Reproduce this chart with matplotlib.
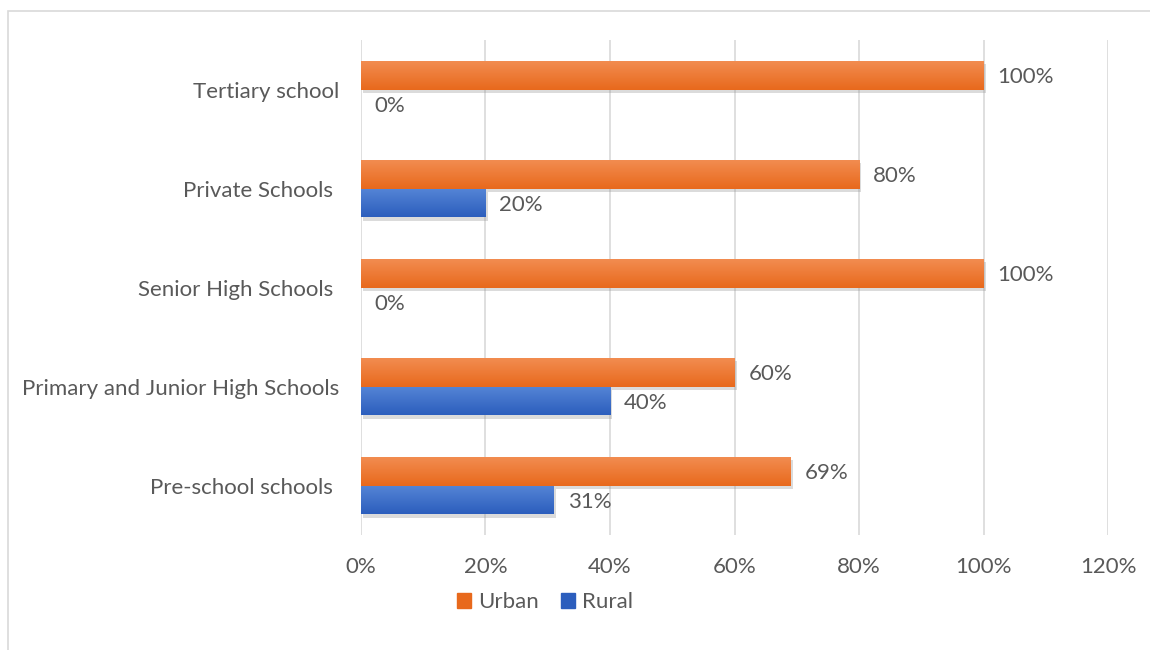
import numpy as np
import matplotlib.pyplot as plt
from matplotlib.patches import Rectangle, Patch
from matplotlib.colors import LinearSegmentedColormap
import matplotlib.patheffects as pe

plt.rcParams['font.family'] = ['Lato', 'DejaVu Sans']

categories = ['Pre-school schools ', 'Primary and Junior High Schools', 'Senior High Schools ',
              'Private Schools ', 'Tertiary school']
urban = [0.69, 0.60, 1.00, 0.80, 1.00]
rural = [0.31, 0.40, 0.00, 0.20, 0.00]
xticks = [0, 0.2, 0.4, 0.6, 0.8, 1.0, 1.2]

text_col = '#595959'
grid_col = '#D9D9D9'
urban_col = ('#F28C50', '#E8691C')
rural_col = ('#5585D6', '#2C5EBD')
fs = 16

fig = plt.figure(figsize=(11.5, 6.5), dpi=100)
ax = fig.add_axes([0.3139, 0.1769, 0.6496, 0.7615])

# chart frame
fig.patches.append(Rectangle((8 / 1150, -0.01), 1.0, 1 - 11 / 650 + 0.01,
                             transform=fig.transFigure, fill=False,
                             edgecolor=grid_col, linewidth=1.2))

y = np.arange(len(categories))
h = 0.29


def shade(bars, cols):
    # vertical gradient clipped to each bar, plus a soft drop shadow
    cmap = LinearSegmentedColormap.from_list('g', [cols[1], cols[0]])
    grad = np.linspace(0, 1, 64).reshape(-1, 1)
    for b in bars:
        if b.get_width() <= 0:
            continue
        x0, y0 = b.get_x(), b.get_y()
        w, hh = b.get_width(), b.get_height()
        b.set_path_effects([pe.SimplePatchShadow(offset=(1.5, -2.5), shadow_rgbFace='#8a8a8a',
                                                 alpha=0.3), pe.Normal()])
        im = ax.imshow(grad, cmap=cmap, aspect='auto', origin='lower',
                       extent=(x0, x0 + w, y0, y0 + hh), zorder=3)
        im.set_clip_path(b)


bu = ax.barh(y + h / 2, urban, height=h, color=urban_col[1], zorder=2)
br = ax.barh(y - h / 2, rural, height=h, color=rural_col[1], zorder=2)
shade(bu, urban_col)
shade(br, rural_col)

for bars, vals in ((bu, urban), (br, rural)):
    for b, v in zip(bars, vals):
        ax.annotate(f'{v:.0%}', (v, b.get_y() + b.get_height() / 2), xytext=(10, -1.5),
                    textcoords='offset points', va='center', ha='left', fontsize=fs,
                    color=text_col)

ax.set_xlim(0, 1.2)
ax.set_ylim(-0.5, len(categories) - 0.5)
ax.set_xticks(xticks)
ax.set_xticklabels([f'{t:.0%}' for t in xticks])
ax.set_yticks(y)
ax.set_yticklabels(categories)
ax.tick_params(axis='both', length=0, labelsize=fs, colors=text_col)
ax.tick_params(axis='x', pad=16)
ax.tick_params(axis='y', pad=16)
ax.xaxis.grid(True, color=grid_col, linewidth=1.2, zorder=0)
ax.set_axisbelow(True)
for s in ax.spines.values():
    s.set_visible(False)

handles = [Patch(color=urban_col[1], label='Urban'), Patch(color=rural_col[1], label='Rural')]
ax.legend(handles=handles, loc='center', bbox_to_anchor=(545 / 1150, 1 - 602 / 650),
          bbox_transform=fig.transFigure, ncol=2, frameon=False, fontsize=fs,
          labelcolor=text_col, handlelength=0.65, handleheight=0.65, handletextpad=0.3,
          columnspacing=1.0)

fig.savefig('out.png', dpi=100)
